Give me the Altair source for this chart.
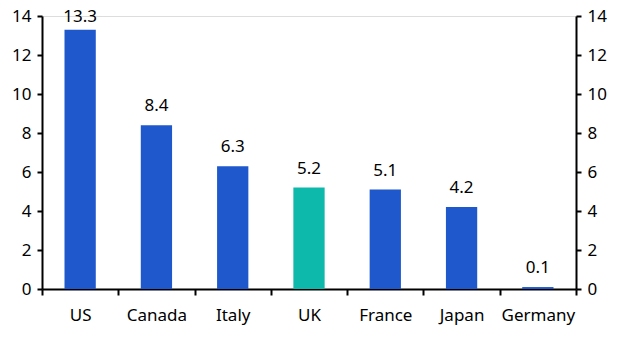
import altair as alt
import pandas as pd

countries = ["US", "Canada", "Italy", "UK", "France", "Japan", "Germany"]
values = [13.3, 8.4, 6.3, 5.2, 5.1, 4.2, 0.1]
highlight = ["other", "other", "other", "UK", "other", "other", "other"]
labels = ["13.3", "8.4", "6.3", "5.2", "5.1", "4.2", "0.1"]

df = pd.DataFrame({"country": countries, "value": values, "group": highlight, "label": labels})

FONT = "Noto Sans"
FS = 17

x = alt.X("country:N", sort=countries, title=None,
          scale=alt.Scale(paddingInner=0, paddingOuter=0),
          axis=alt.Axis(tickBand="extent", labelAngle=0, domainColor="black", domainWidth=2,
                        tickColor="black", tickWidth=2, tickSize=6, labelFontSize=FS,
                        labelFont=FONT, labelColor="black", labelPadding=12))

yscale = alt.Scale(domain=[0, 14], nice=False)

def yaxis(orient):
    return alt.Axis(orient=orient, values=[0, 2, 4, 6, 8, 10, 12, 14], grid=False,
                    domainColor="black", domainWidth=2, tickColor="black", tickWidth=2,
                    tickSize=5, labelFontSize=FS, labelFont=FONT, labelColor="black",
                    labelPadding=6, title=None)

bars = alt.Chart(df).mark_bar(width=alt.RelativeBandSize(0.41)).encode(
    x=x,
    y=alt.Y("value:Q", scale=yscale, axis=yaxis("left")),
    color=alt.Color("group:N", scale=alt.Scale(domain=["other", "UK"], range=["#1F57CD", "#0DB9AB"]), legend=None),
)

text = alt.Chart(df).transform_calculate(
    ly="min(datum.value, 13.0)"
).mark_text(dy=-19, fontSize=FS, font=FONT, color="black").encode(
    x=x,
    y=alt.Y("ly:Q", scale=yscale, axis=yaxis("right")),
    text="label:N",
)

chart = alt.layer(bars, text).resolve_axis(y="independent").properties(
    width=534, height=273,
    autosize=alt.AutoSizeParams(type="none"),
    padding={"left": 34, "top": 8, "right": 40, "bottom": 40},
).configure_view(stroke=None).configure(background="white")

chart.save("out.html", embed_options={"renderer": "svg", "actions": False})
